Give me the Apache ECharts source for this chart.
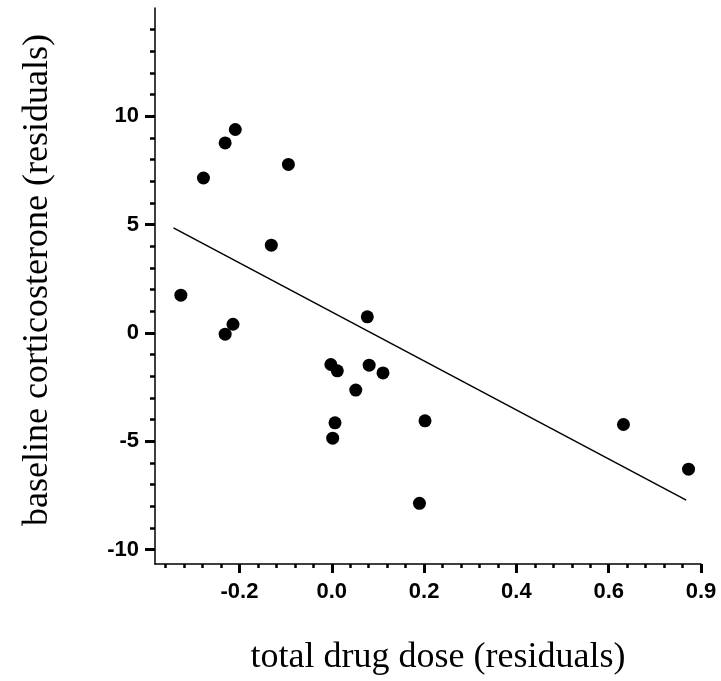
<!DOCTYPE html>
<html>
<head>
<meta charset="utf-8">
<script src="https://cdn.jsdelivr.net/npm/echarts@6/dist/echarts.min.js"></script>
<style>html,body{margin:0;padding:0;background:#fff;}#c{width:721px;height:681px;}</style>
</head>
<body>
<div id="c"></div>
<script>
// ---- data ----
const xValues = [-0.327, -0.231, -0.214, -0.278, -0.231, -0.209, -0.094, -0.131, 0.077, -0.002,
                 0.012, 0.081, 0.111, 0.052, 0.007, 0.002, 0.202, 0.190, 0.632, 0.773];
const yValues = [1.74, -0.06, 0.40, 7.15, 8.77, 9.39, 7.78, 4.05, 0.74, -1.46,
                 -1.75, -1.49, -1.85, -2.64, -4.15, -4.86, -4.06, -7.87, -4.23, -6.29];
const fitX = [-0.343, 0.768];
const fitY = [4.85, -7.72];

const xMajorTicks = [-0.2, 0, 0.2, 0.4, 0.6, 0.8];
const xTickLabels = ['-0.2', '0.0', '0.2', '0.4', '0.6', '0.9'];
const yMajorTicks = [-10, -5, 0, 5, 10];
const yTickLabels = ['-10', '-5', '0', '5', '10'];
const xRange = [-0.383, 0.8];
const yRange = [-10.67, 15];
const xMinorStep = 0.04;
const yMinorStep = 1;

const xTitle = 'total drug dose (residuals)';
const yTitle = 'baseline corticosterone (residuals)';

// ---- build ----
function minorTicks(lo, hi, step, majors) {
  const out = [];
  const start = Math.ceil((lo + 1e-9) / step);
  for (let k = start; k * step <= hi + 1e-9; k++) {
    const v = +(k * step).toFixed(6);
    if (v <= lo + 1e-9 || v >= hi - 1e-9) continue;
    if (majors.some(m => Math.abs(m - v) < 1e-6)) continue;
    out.push(v);
  }
  return out;
}
const xMinor = minorTicks(xRange[0], xRange[1], xMinorStep, xMajorTicks);
const yMinor = minorTicks(yRange[0], yRange[1], yMinorStep, yMajorTicks);

function labelFor(values, labels) {
  return v => {
    const i = values.findIndex(m => Math.abs(m - v) < 1e-6);
    return i >= 0 ? labels[i] : '';
  };
}

const labelFont = {fontFamily: 'Liberation Sans', fontWeight: 'bold', fontSize: 22, color: '#000'};
const titleFont = {fontFamily: 'Liberation Serif', fontSize: 36, color: '#000'};

const chart = echarts.init(document.getElementById('c'), null, {renderer: 'canvas'});
chart.setOption({
  animation: false,
  backgroundColor: '#fff',
  grid: {left: 155, right: 20, top: 8, bottom: 117, containLabel: false},
  xAxis: [
    {
      type: 'value', min: xRange[0], max: xRange[1], position: 'bottom',
      splitLine: {show: false},
      axisLine: {show: true, onZero: false, lineStyle: {color: '#000', width: 1.5}},
      axisTick: {show: true, customValues: xMajorTicks, length: 9, lineStyle: {color: '#000', width: 3}},
      axisLabel: Object.assign({show: true, customValues: xMajorTicks, margin: 17,
        formatter: labelFor(xMajorTicks, xTickLabels)}, labelFont),
      name: xTitle, nameLocation: 'middle', nameGap: 76,
      nameTextStyle: Object.assign({padding: [0, 0, 0, 20]}, titleFont)
    },
    {
      type: 'value', min: xRange[0], max: xRange[1], position: 'bottom', gridIndex: 0,
      splitLine: {show: false},
      axisLine: {show: false, onZero: false},
      axisTick: {show: true, customValues: xMinor, length: 4, lineStyle: {color: '#000', width: 2.5}},
      axisLabel: {show: false}
    }
  ],
  yAxis: [
    {
      type: 'value', min: yRange[0], max: yRange[1], position: 'left',
      splitLine: {show: false},
      axisLine: {show: true, onZero: false, lineStyle: {color: '#000', width: 1.5}},
      axisTick: {show: true, customValues: yMajorTicks, length: 10, lineStyle: {color: '#000', width: 3}},
      axisLabel: Object.assign({show: true, customValues: yMajorTicks, margin: 16,
        formatter: labelFor(yMajorTicks, yTickLabels)}, labelFont),
      name: yTitle, nameLocation: 'middle', nameGap: 99, nameRotate: 90,
      nameTextStyle: Object.assign({padding: [0, 0, 0, 12]}, titleFont)
    },
    {
      type: 'value', min: yRange[0], max: yRange[1], position: 'left', gridIndex: 0,
      splitLine: {show: false},
      axisLine: {show: false, onZero: false},
      axisTick: {show: true, customValues: yMinor, length: 5, lineStyle: {color: '#000', width: 2.5}},
      axisLabel: {show: false}
    }
  ],
  series: [
    {
      type: 'line', xAxisIndex: 0, yAxisIndex: 0,
      data: fitX.map((x, i) => [x, fitY[i]]),
      symbol: 'none', lineStyle: {color: '#000', width: 1.5}, silent: true, z: 2
    },
    {
      type: 'scatter', xAxisIndex: 0, yAxisIndex: 0,
      data: xValues.map((x, i) => [x, yValues[i]]),
      symbol: 'circle', symbolSize: 13,
      itemStyle: {color: '#000', opacity: 1}, z: 3
    }
  ]
});
</script>
</body>
</html>
